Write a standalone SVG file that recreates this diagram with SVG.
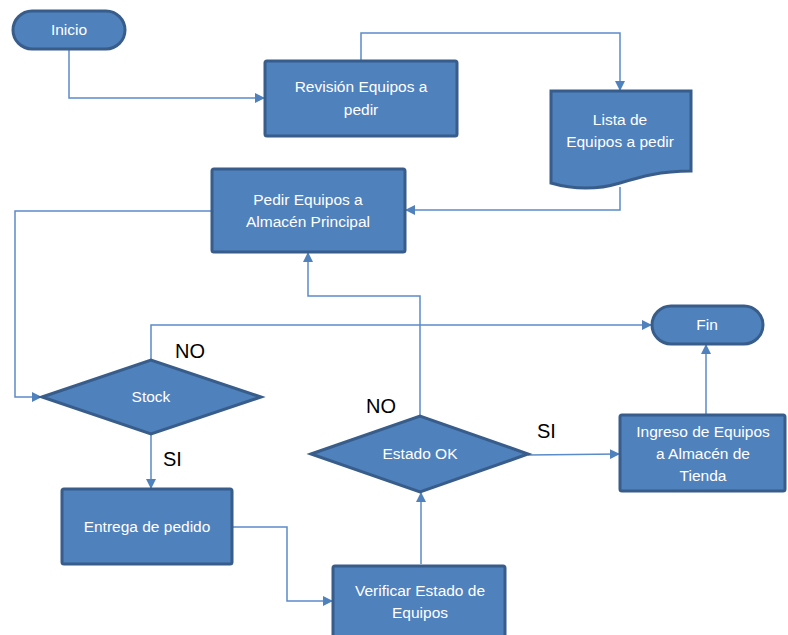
<svg xmlns="http://www.w3.org/2000/svg" width="788" height="635" viewBox="0 0 788 635">
<style>
.n{fill:#4F81BD;stroke:#385D8A;stroke-width:3}
.t{fill:#FFFFFF;font-family:"Liberation Sans",Arial,sans-serif;font-size:15.5px;text-anchor:middle}
.c{fill:none;stroke:#5B8BC9;stroke-width:1.5}
.l{fill:#000000;font-family:"Liberation Sans",Arial,sans-serif;font-size:20px}
</style>
<defs>
<marker id="a" markerWidth="10" markerHeight="10" refX="9" refY="5" orient="auto" markerUnits="userSpaceOnUse">
<path d="M0,0 L10,5 L0,10 Z" fill="#4F81BD"/>
</marker>
</defs>
<rect width="788" height="635" fill="#FFFFFF"/>
<g id="connectors">
<path class="c" d="M69,49 V98 H264" marker-end="url(#a)"/>
<path class="c" d="M361,61 V33 H620 V90" marker-end="url(#a)"/>
<path class="c" d="M620,187 V210 H406" marker-end="url(#a)"/>
<path class="c" d="M212,211 H15 V397 H41" marker-end="url(#a)"/>
<path class="c" d="M151,360 V325 H651" marker-end="url(#a)"/>
<path class="c" d="M151,434 V488" marker-end="url(#a)"/>
<path class="c" d="M232,527 H287 V601 H332" marker-end="url(#a)"/>
<path class="c" d="M421,564 V493" marker-end="url(#a)"/>
<path class="c" d="M420,416 V296 H308 V253" marker-end="url(#a)"/>
<path class="c" d="M528,455 L619,454" marker-end="url(#a)"/>
<path class="c" d="M706,415 V345" marker-end="url(#a)"/>
</g>
<g id="inicio">
<rect class="n" x="13" y="11" width="112" height="38" rx="19"/>
<text class="t" x="69" y="35">Inicio</text>
</g>
<g id="revision">
<rect class="n" x="265" y="61" width="192" height="75" rx="2"/>
<text class="t" x="361" y="92">Revisión Equipos a</text>
<text class="t" x="361" y="115">pedir</text>
</g>
<g id="lista">
<path class="n" d="M551,91 H691 V171 C660,171 640,177 620,183 C600,189 575,190 551,183 Z"/>
<text class="t" x="620" y="125">Lista de</text>
<text class="t" x="620" y="147">Equipos a pedir</text>
</g>
<g id="pedir">
<rect class="n" x="212" y="169" width="193" height="83" rx="2"/>
<text class="t" x="308" y="205">Pedir Equipos a</text>
<text class="t" x="308" y="227">Almacén Principal</text>
</g>
<g id="stock">
<path class="n" d="M42,397 L151,360 L261,397 L151,434 Z"/>
<text class="t" x="151" y="402">Stock</text>
</g>
<g id="entrega">
<rect class="n" x="62" y="489" width="170" height="75" rx="2"/>
<text class="t" x="147" y="532">Entrega de pedido</text>
</g>
<g id="verificar">
<rect class="n" x="333" y="566" width="172" height="75" rx="2"/>
<text class="t" x="420" y="596">Verificar Estado de</text>
<text class="t" x="420" y="618">Equipos</text>
</g>
<g id="estado">
<path class="n" d="M311,454 L420,416 L528,454 L420,492 Z"/>
<text class="t" x="420" y="459">Estado OK</text>
</g>
<g id="ingreso">
<rect class="n" x="620" y="415" width="165" height="76" rx="2"/>
<text class="t" x="703" y="437">Ingreso de Equipos</text>
<text class="t" x="703" y="459">a Almacén de</text>
<text class="t" x="703" y="481">Tienda</text>
</g>
<g id="fin">
<rect class="n" x="652" y="306" width="111" height="38" rx="19"/>
<text class="t" x="707" y="330">Fin</text>
</g>
<g id="labels">
<text class="l" x="175" y="358">NO</text>
<text class="l" x="163" y="466">SI</text>
<text class="l" x="366" y="413">NO</text>
<text class="l" x="537" y="438">SI</text>
</g>
</svg>
